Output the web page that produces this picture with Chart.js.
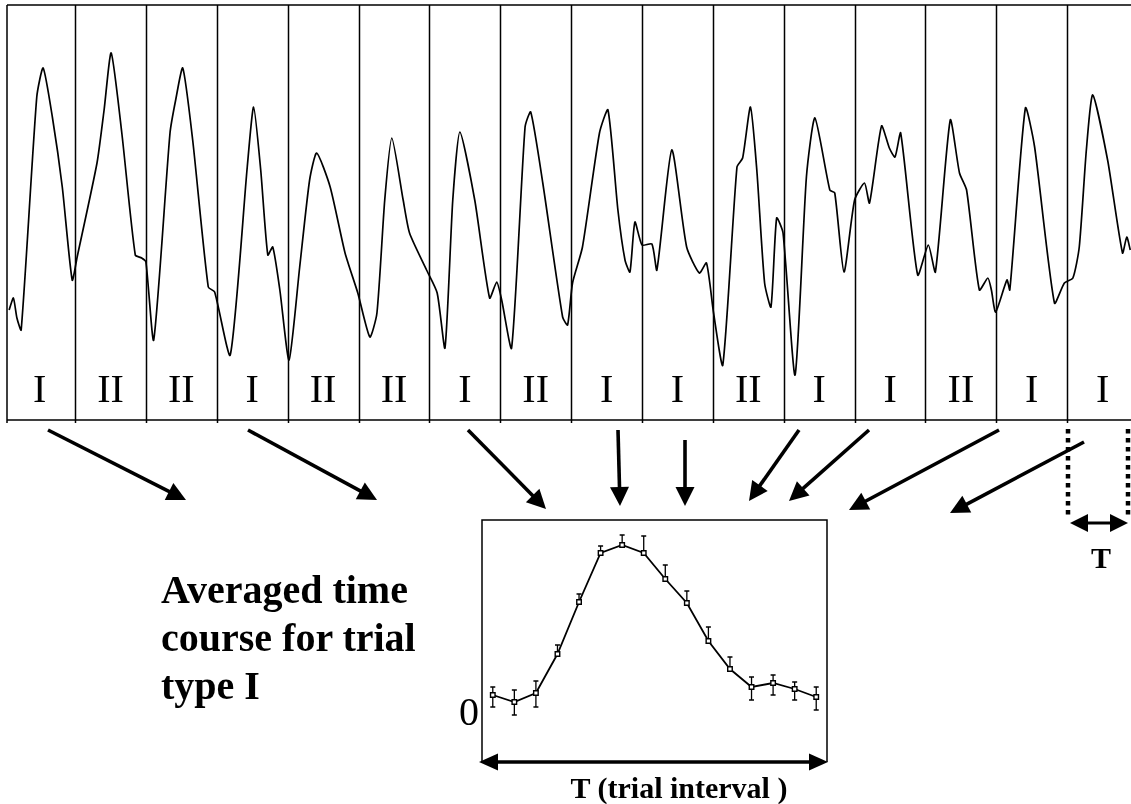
<!DOCTYPE html>
<html>
<head>
<meta charset="utf-8">
<script src="https://cdn.jsdelivr.net/npm/chart.js@4.4.1/dist/chart.umd.min.js"></script>
<style>
  html, body { margin: 0; padding: 0; background: #fff; }
  #page { position: relative; width: 1131px; height: 804px; overflow: hidden; }
  #trace { position: absolute; left: 0; top: 0; }
  #avg { position: absolute; left: 440px; top: 500px; }
  #overlay { position: absolute; left: 0; top: 0; pointer-events: none; }
  #overlay text { font-family: "Liberation Serif", "Times New Roman", serif; fill: #000; }
</style>
</head>
<body>
<div id="page">
  <canvas id="trace" width="1131" height="430"></canvas>
  <canvas id="avg" width="420" height="280"></canvas>
  <svg id="overlay" width="1131" height="804"></svg>
</div>
<script>
// trial sequence of the run
const trialTypes = ["I","II","II","I","II","II","I","II","I","I","II","I","I","II","I","I"];

// raw time course (time in trial units, signal in arbitrary units)
const traceTime = [
  0.07,0.13,0.18,0.24,0.46,0.55,0.68,0.82,0.96,
  1.03,1.31,1.41,1.51,1.66,1.85,1.94,2.00,
  2.11,2.34,2.42,2.52,2.66,2.88,2.97,
  3.19,3.43,3.52,3.62,3.72,3.79,3.89,4.02,
  4.17,4.31,4.41,4.60,4.81,4.99,
  5.16,5.26,5.37,5.47,5.63,5.72,5.96,
  6.11,6.22,6.33,6.43,6.64,6.85,6.95,
  7.02,7.16,7.35,7.43,7.60,7.88,7.95,
  8.02,8.16,8.40,8.52,8.66,8.76,8.83,8.90,
  9.00,9.14,9.21,9.42,9.63,9.81,9.91,
  10.01,10.14,10.34,10.42,10.53,10.62,10.73,10.82,10.90,10.99,
  11.16,11.32,11.44,11.65,11.72,11.85,
  12.00,12.14,12.21,12.38,12.49,12.57,12.65,12.89,
  13.04,13.14,13.35,13.48,13.58,13.76,13.88,13.93,13.99,
  14.15,14.19,14.41,14.54,14.82,14.96,
  15.08,15.17,15.27,15.36,15.57,15.78,15.84,15.89
];
const traceValue = [
  110,122,102,90,323,352,303,233,140,
  163,257,310,367,287,165,162,158,
  80,287,320,352,280,133,128,
  65,253,313,250,165,173,130,60,
  153,240,267,233,167,127,
  83,107,220,282,220,187,150,
  127,72,220,288,220,122,138,
  120,72,293,308,237,103,95,
  137,173,287,310,210,160,148,198,
  175,176,150,270,173,147,157,
  107,55,253,262,313,250,137,113,202,187,
  45,243,302,230,227,148,
  220,237,217,294,272,263,287,145,
  175,148,300,247,230,130,142,130,108,
  140,130,312,273,117,137,
  142,173,270,325,260,167,183,170
];

// averaged time course for trial type I
const avgBins   = [0,1,2,3,4,5,6,7,8,9,10,11,12,13,14,15];
const avgValues = [15,8,17,56,108,157,165,157,131,107,69,41,23,27,21,13];
const errUp     = [8,12,12,9,8,7,10,17,14,12,14,12,10,8,7,10];
const errDown   = [12,13,14,0,0,0,0,0,0,0,0,0,13,12,11,13];

const SERIF = '"Liberation Serif", "Times New Roman", serif';

function drawArrowHead(ctx, tipX, tipY, dirX, len, half) {
  ctx.beginPath();
  ctx.moveTo(tipX, tipY);
  ctx.lineTo(tipX - dirX * len, tipY - half);
  ctx.lineTo(tipX - dirX * len, tipY + half);
  ctx.closePath();
  ctx.fill();
}

const trialFrame = {
  id: "trialFrame",
  afterDraw(c) {
    const { ctx, chartArea: a, scales: { x } } = c;
    ctx.save();
    ctx.strokeStyle = "#000";
    ctx.lineWidth = 1.5;
    ctx.beginPath();
    ctx.moveTo(a.left, a.top); ctx.lineTo(c.width, a.top);
    ctx.moveTo(a.left, a.top); ctx.lineTo(a.left, a.bottom + 3);
    ctx.moveTo(a.left, a.bottom); ctx.lineTo(c.width, a.bottom);
    for (let k = 1; k < trialTypes.length; k++) {
      const px = Math.round(x.getPixelForValue(k)) + 0.5;
      ctx.moveTo(px, a.top); ctx.lineTo(px, a.bottom + 3);
    }
    ctx.stroke();
    ctx.fillStyle = "#000";
    ctx.font = "40px " + SERIF;
    ctx.textAlign = "center";
    ctx.textBaseline = "alphabetic";
    trialTypes.forEach((t, k) => ctx.fillText(t, x.getPixelForValue(k + 0.5), a.bottom - 18));
    ctx.restore();
  }
};

new Chart(document.getElementById("trace"), {
  type: "line",
  data: {
    datasets: [{
      data: traceTime.map((t, i) => ({ x: t, y: traceValue[i] })),
      borderColor: "#000",
      borderWidth: 1.7,
      pointRadius: 0,
      tension: 0.2,
      fill: false
    }]
  },
  options: {
    responsive: false,
    animation: false,
    events: [],
    layout: { padding: { left: 7, top: 5, right: 0, bottom: 10 } },
    scales: {
      x: { type: "linear", min: 0.04, max: 15.9, display: false },
      y: { min: 0, max: 415, display: false }
    },
    plugins: { legend: { display: false }, tooltip: { enabled: false } }
  },
  plugins: [trialFrame]
});

const avgFrame = {
  id: "avgFrame",
  beforeDatasetsDraw(c) {
    const { ctx, scales: { x, y } } = c;
    ctx.save();
    ctx.strokeStyle = "#000";
    ctx.lineWidth = 1.3;
    ctx.beginPath();
    avgBins.forEach((b, i) => {
      const px = x.getPixelForValue(b);
      const py = y.getPixelForValue(avgValues[i]);
      if (errUp[i]) {
        const pu = y.getPixelForValue(avgValues[i] + errUp[i]);
        ctx.moveTo(px, py); ctx.lineTo(px, pu);
        ctx.moveTo(px - 2.5, pu); ctx.lineTo(px + 2.5, pu);
      }
      if (errDown[i]) {
        const pd = y.getPixelForValue(avgValues[i] - errDown[i]);
        ctx.moveTo(px, py); ctx.lineTo(px, pd);
        ctx.moveTo(px - 2.5, pd); ctx.lineTo(px + 2.5, pd);
      }
    });
    ctx.stroke();
    ctx.restore();
  },
  afterDraw(c) {
    const { ctx, chartArea: a, scales: { y } } = c;
    ctx.save();
    ctx.strokeStyle = "#000";
    ctx.fillStyle = "#000";
    ctx.lineWidth = 1.5;
    ctx.beginPath();
    ctx.moveTo(a.left, a.bottom); ctx.lineTo(a.left, a.top);
    ctx.lineTo(a.right, a.top); ctx.lineTo(a.right, a.bottom);
    ctx.stroke();
    // double arrow along the time axis
    ctx.lineWidth = 3.3;
    ctx.beginPath();
    ctx.moveTo(a.left + 10, a.bottom); ctx.lineTo(a.right - 10, a.bottom);
    ctx.stroke();
    drawArrowHead(ctx, a.left - 3, a.bottom, -1, 19, 8.5);
    drawArrowHead(ctx, a.right + 1, a.bottom, 1, 19, 8.5);
    // zero label
    ctx.font = "40px " + SERIF;
    ctx.textAlign = "right";
    ctx.textBaseline = "alphabetic";
    ctx.fillText("0", a.left - 3, y.getPixelForValue(0) + 15);
    ctx.restore();
  }
};

new Chart(document.getElementById("avg"), {
  type: "line",
  data: {
    datasets: [{
      data: avgBins.map((b, i) => ({ x: b, y: avgValues[i] })),
      borderColor: "#000",
      borderWidth: 1.8,
      pointStyle: "rect",
      pointRadius: 3.2,
      pointBorderWidth: 1.4,
      pointBackgroundColor: "#fff",
      pointBorderColor: "#000",
      tension: 0
    }]
  },
  options: {
    responsive: false,
    animation: false,
    events: [],
    layout: { padding: { left: 42, top: 20, right: 33, bottom: 18 } },
    scales: {
      x: { type: "linear", min: -0.5, max: 15.5, display: false },
      y: { min: -52, max: 190, display: false }
    },
    plugins: { legend: { display: false }, tooltip: { enabled: false } }
  },
  plugins: [avgFrame]
});

// overlay: arrows from type I trials and the captions
const NS = "http://www.w3.org/2000/svg";
const svg = document.getElementById("overlay");
function el(tag, attrs, text) {
  const e = document.createElementNS(NS, tag);
  for (const k in attrs) e.setAttribute(k, attrs[k]);
  if (text) e.textContent = text;
  svg.appendChild(e);
  return e;
}
function arrow(x1, y1, x2, y2, lw, len, half) {
  const d = Math.hypot(x2 - x1, y2 - y1), ux = (x2 - x1) / d, uy = (y2 - y1) / d;
  const bx = x2 - ux * len, by = y2 - uy * len;
  el("line", { x1, y1, x2: bx + ux * 2, y2: by + uy * 2, stroke: "#000", "stroke-width": lw });
  el("polygon", { points: `${x2},${y2} ${bx - uy * half},${by + ux * half} ${bx + uy * half},${by - ux * half}`, fill: "#000" });
}

const arrowLines = [
  [48, 430, 186, 500], [248, 430, 377, 500], [468, 430, 546, 509],
  [618, 430, 620, 506], [685, 440, 685, 506], [799, 430, 749, 501],
  [869, 430, 789, 501], [999, 430, 849, 510], [1084, 442, 950, 513]
];
arrowLines.forEach(a => arrow(a[0], a[1], a[2], a[3], 3.6, 19, 9.5));

// one trial interval bracket
[1068, 1128].forEach(x => el("line", { x1: x, y1: 429, x2: x, y2: 518, stroke: "#000", "stroke-width": 4.5, "stroke-dasharray": "4.5 4.5" }));
el("line", { x1: 1084, y1: 523, x2: 1114, y2: 523, stroke: "#000", "stroke-width": 3 });
el("polygon", { points: "1070,523 1088,514 1088,532", fill: "#000" });
el("polygon", { points: "1128,523 1110,514 1110,532", fill: "#000" });
el("text", { x: 1101, y: 568, "font-size": 30, "font-weight": "bold", "text-anchor": "middle" }, "T");

el("text", { x: 679, y: 798, "font-size": 30, "font-weight": "bold", "text-anchor": "middle" }, "T (trial interval )");

["Averaged time", "course for trial", "type I"].forEach((s, i) =>
  el("text", { x: 161, y: 603 + i * 48, "font-size": 40, "font-weight": "bold" }, s));
</script>
</body>
</html>
